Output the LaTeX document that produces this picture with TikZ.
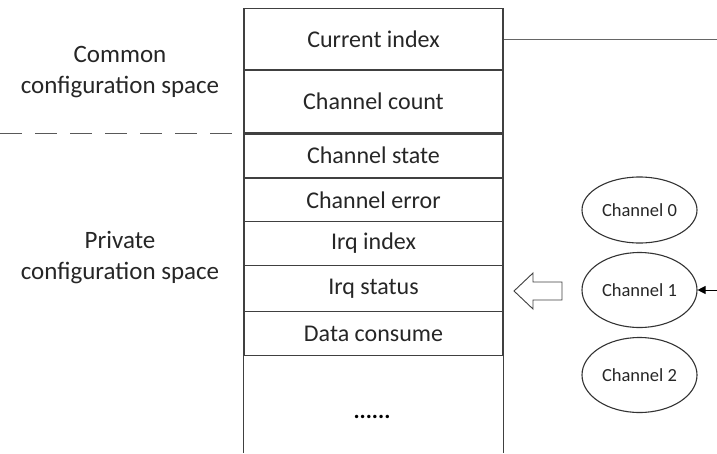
\documentclass[tikz,border=0pt]{standalone}
\usepackage{fontspec}
\setmainfont{Carlito}
\usetikzlibrary{arrows.meta,shapes.geometric}
\begin{document}
\begin{tikzpicture}[x=1pt,y=-1pt,
  cell/.style={draw=black!75, line width=1.3pt, rectangle, inner sep=0pt,
    minimum width=259pt, font=\fontsize{24}{26}\selectfont, text=black!85},
  side/.style={align=center, font=\fontsize{25}{31}\selectfont, text=black!85},
  chan/.style={draw=black!80, line width=1.1pt, ellipse, inner sep=0pt,
    minimum width=115pt, font=\fontsize{18.5}{20}\selectfont, text=black!85},
  link/.style={draw=black!60, line width=1.3pt}]
\useasboundingbox (0,0) rectangle (717,453);
% register table
\node[cell, minimum height=62pt] (cur)   at (373.5,39.5)  {Current index};
\node[cell, minimum height=63pt] (cnt)   at (373.5,101.5) {Channel count};
\node[cell, minimum height=45pt] (st)    at (373.5,155.5) {Channel state};
\node[cell, minimum height=43pt] (err)   at (373.5,200)   {Channel error};
\node[cell, minimum height=44pt] (irqi)  at (373.5,243.5) {Irq index};
\node[cell, minimum height=46pt] (irqs)  at (373.5,288.5) {Irq status};
\node[cell, minimum height=44pt] (data)  at (373.5,333.5) {Data consume};
\node[font=\bfseries\fontsize{23}{24}\selectfont] (more) at (372,417) {......};
% open lower part of the table
\coordinate (bot) at (0,453);
\draw[draw=black!75, line width=1.3pt] (data.south west) -- (data.south west |- bot);
\draw[draw=black!75, line width=1.3pt] (data.south east) -- (data.south east |- bot);
\draw[draw=black!75, line width=2pt] (cnt.south west) -- (cnt.south east);
% section labels and separator
\node[side] (common)  at (120,72)  {Common\\configuration space};
\node[side] (private) at (120,258) {Private\\configuration space};
\coordinate (sepL) at (0,133);
\draw[draw=black!65, line width=1.5pt, dash pattern=on 22pt off 13pt] (sepL |- cnt.south west) -- (cnt.south west);
% link from the current index
\coordinate (curR) at (717,41);
\draw[link] (cur.east) -- (cur.east -| curR);
% channels
\node[chan, minimum height=66pt] (ch0) at (639.5,210) {Channel 0};
\node[chan, minimum height=75pt] (ch1) at (639.5,290) {Channel 1};
\node[chan, minimum height=75pt] (ch2) at (639.5,375) {Channel 2};
\coordinate (ch1R) at (717,290);
\draw[line width=1pt, -{Triangle[length=8pt,width=8pt]}] (ch1R) -- (ch1.east);
% hollow arrow towards the table
\coordinate (blk) at (514,291);
\draw[draw=black!75, line width=0.9pt, fill=white]
  (blk) -- ++(19,-18) -- ++(0,9) -- ++(29,0) -- ++(0,18) -- ++(-29,0) -- ++(0,9) -- cycle;
\end{tikzpicture}
\end{document}
